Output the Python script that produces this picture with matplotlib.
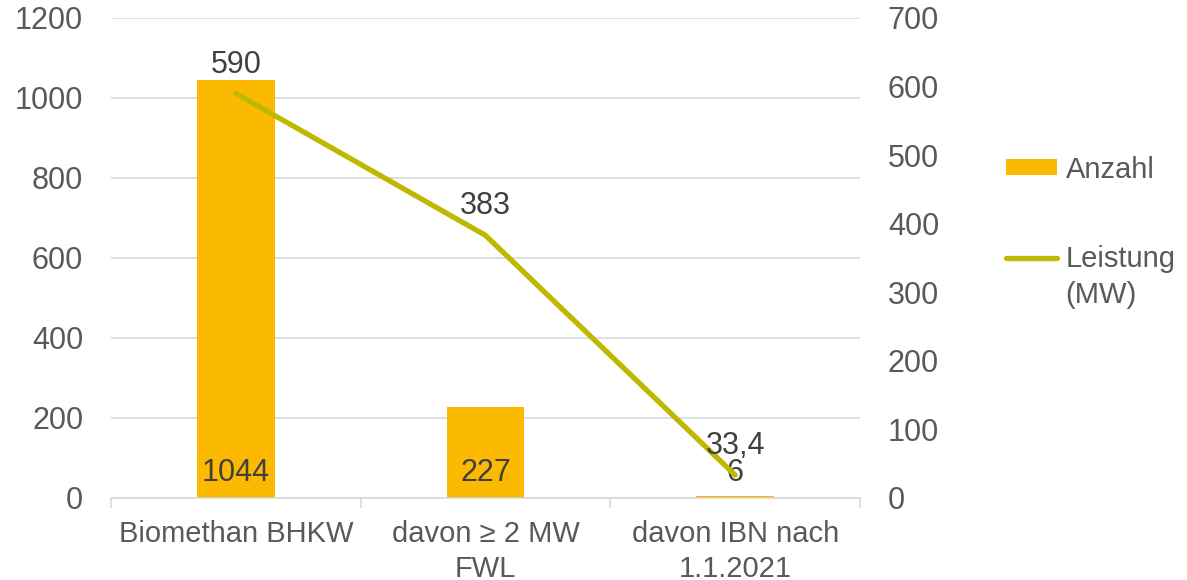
"""Biomethan-BHKW: Anzahl (Balken) und Leistung (Linie) mit zwei y-Achsen"""

import matplotlib

matplotlib.use("Agg")
import matplotlib.pyplot as plt
import numpy as np
from matplotlib.lines import Line2D
from matplotlib.patches import Patch

categories = ["Biomethan BHKW", "davon \u2265 2 MW\nFWL", "davon IBN nach\n1.1.2021"]
anzahl = [1044, 227, 6]
leistung = [590, 383, 33.4]
leistung_labels = ["590", "383", "33,4"]
left_ticks = [0, 200, 400, 600, 800, 1000, 1200]
right_ticks = [0, 100, 200, 300, 400, 500, 600, 700]

BAR_COLOR = "#FBB900"
LINE_COLOR = "#BFB800"
TEXT_COLOR = "#595959"
LABEL_COLOR = "#404040"
GRID_COLOR = "#D9D9D9"
FS = 22

plt.rcParams["font.family"] = ["Liberation Sans", "DejaVu Sans"]
plt.rcParams["font.size"] = FS

fig = plt.figure(figsize=(11.87, 5.80), dpi=100)
ax = fig.add_axes([0.0935, 0.1414, 0.631, 0.8276])
ax2 = ax.twinx()

x = np.arange(len(categories))
ax.bar(x, anzahl, width=0.31, color=BAR_COLOR, zorder=2)
ax.set_xlim(-0.5, len(categories) - 0.5)
ax.set_ylim(0, 1200)
ax.set_yticks(left_ticks)
ax.grid(axis="y", color=GRID_COLOR, linewidth=1.2, zorder=0)
ax.set_axisbelow(True)

ax.set_xticks(x)
ax.set_xticklabels(categories, color=TEXT_COLOR, fontsize=FS - 1, linespacing=1.3)
ax.tick_params(axis="x", length=0, pad=16)
ax.set_xticks(np.arange(len(categories) + 1) - 0.5, minor=True)
ax.tick_params(axis="x", which="minor", length=7, color=GRID_COLOR, width=1.2)
ax.tick_params(axis="y", length=0, pad=20, labelcolor=TEXT_COLOR, labelsize=FS)

for spine in ["top", "left", "right"]:
    ax.spines[spine].set_visible(False)
    ax2.spines[spine].set_visible(False)
ax.spines["bottom"].set_color(GRID_COLOR)
ax.spines["bottom"].set_linewidth(1.2)
ax2.spines["bottom"].set_visible(False)

ax2.plot(x, leistung, color=LINE_COLOR, linewidth=3.8, solid_capstyle="round", zorder=3)
ax2.set_ylim(0, 700)
ax2.set_yticks(right_ticks)
ax2.tick_params(axis="y", length=0, pad=20, labelcolor=TEXT_COLOR, labelsize=FS)

# Datenbeschriftungen
for xi, val in zip(x, anzahl):
    ax.annotate(str(val), (xi, 0), xytext=(0, 7), textcoords="offset points",
                ha="center", va="bottom", color=LABEL_COLOR, fontsize=FS)
for xi, val, lab in zip(x, leistung, leistung_labels):
    ax2.annotate(lab, (xi, val), xytext=(0, 10), textcoords="offset points",
                 ha="center", va="bottom", color=LABEL_COLOR, fontsize=FS)

handles = [
    Patch(facecolor=BAR_COLOR, edgecolor="none"),
    Line2D([0], [0], color=LINE_COLOR, linewidth=3.8, solid_capstyle="round"),
]
leg = fig.legend(handles, ["Anzahl", "Leistung"], loc="upper left",
                 bbox_to_anchor=(0.835, 0.757), frameon=False, fontsize=FS - 1,
                 labelcolor=TEXT_COLOR, handlelength=1.75, handleheight=0.45,
                 handletextpad=0.3, labelspacing=2.1, borderpad=0)

# zweite Zeile der Linien-Legende unter "Leistung"
fig.canvas.draw()
bb = leg.get_texts()[1].get_window_extent().transformed(fig.transFigure.inverted())
fig.text(bb.x0, bb.y0 - 0.015, "(MW)", ha="left", va="top", color=TEXT_COLOR, fontsize=FS - 1)

fig.savefig("out.png", dpi=100)
